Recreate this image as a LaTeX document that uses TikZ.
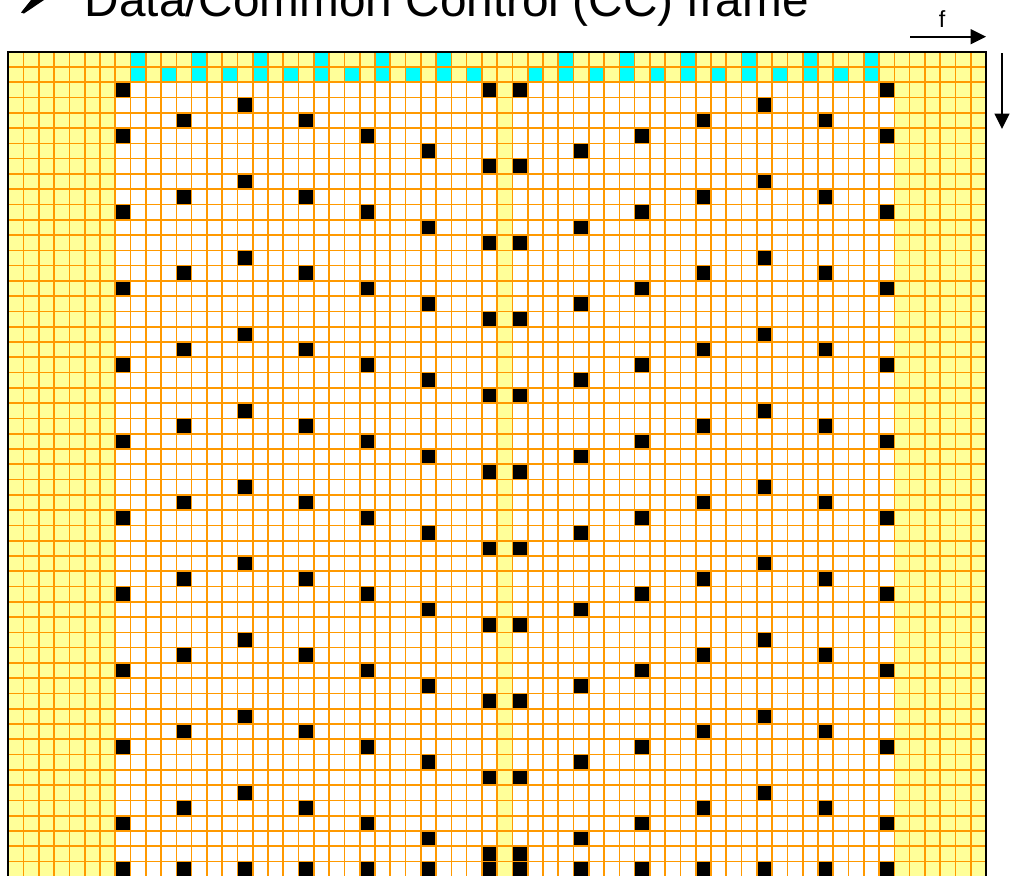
\documentclass[tikz,border=0pt]{standalone}
\usepackage{fontspec}
\setmainfont{Liberation Sans}
\usetikzlibrary{arrows.meta}
\definecolor{gridorange}{RGB}{255,153,0}
\definecolor{padyellow}{RGB}{255,255,153}
\definecolor{refcyan}{RGB}{0,255,255}
\tikzset{
  gridline/.style={draw=gridorange, line width=1.25pt},
  pilot/.style={fill=black},
  ctrl/.style={fill=refcyan},
  pad/.style={fill=padyellow},
  axisarrow/.style={line width=1.6pt, -{Triangle[length=11.5pt,width=11pt]}},
}
\newcommand\gcell[3]{\fill[#3] ({8.3+#1*15.277},{51.7+#2*15.28}) rectangle ++(15.277,15.28);}
\begin{document}
\begin{tikzpicture}[x=0.75pt,y=-0.75pt]
\useasboundingbox (0,0) rectangle (1010,875);
\clip (0,0) rectangle (1010,875);
% guard bands, DC column and top control rows
\fill[pad] (8.3,51.7) rectangle ({8.3+7*15.277},890);
\fill[pad] ({8.3+58*15.277},51.7) rectangle ({8.3+64*15.277},890);
\fill[pad] ({8.3+32*15.277},51.7) rectangle ({8.3+33*15.277},890);
\fill[pad] (8.3,51.7) rectangle ({8.3+64*15.277},{51.7+2*15.28});
% cyan control cells
\foreach \c in {8,10,...,30,34,36,...,56} {\gcell{\c}{1}{refcyan}}
\foreach \c in {8,12,...,28,36,40,...,56} {\gcell{\c}{0}{refcyan}}
% pilots
\foreach \c/\m in {7/0,11/4,15/3,19/4,23/0,27/1,31/2,33/2,37/1,41/0,45/4,49/3,53/4,57/0} {
  \foreach \k in {0,...,11} {
    \pgfmathtruncatemacro\r{\m+5*\k}
    \ifnum\r>1 \ifnum\r<54 \gcell{\c}{\r}{black}\fi\fi
  }
  \gcell{\c}{53}{black}
}
\gcell{7}{2}{black}
\gcell{57}{2}{black}
% grid
\foreach \i in {0,...,64} {\draw[gridline] ({8.3+\i*15.277},51.7) -- ({8.3+\i*15.277},890);}
\foreach \j in {0,...,54} {\draw[gridline] (8.3,{51.7+\j*15.28}) -- ({8.3+64*15.277},{51.7+\j*15.28});}
% border
\draw[black, line width=1.6pt] (8.3,890) -- (8.3,51.7) -- ({8.3+64*15.277},51.7) -- ({8.3+64*15.277},890);
% title
\fill[black] (31,0) -- (44,0) -- (24,13.5) -- (21,12.5) -- cycle;
\node[anchor=base west, inner sep=0pt, font=\fontsize{35.8}{40}\selectfont] (title) at (84.5,16) {Data/Common Control (CC) frame};
% axes
\node[anchor=base, inner sep=0pt, font=\fontsize{17.5}{20}\selectfont] (flabel) at (942,27) {f};
\coordinate (fstart) at (910,36.7);
\coordinate (fend) at (986,36.7);
\draw[axisarrow] (fstart) -- (fend);
\coordinate (tstart) at (1002,53);
\coordinate (tend) at (1002,129);
\draw[axisarrow] (tstart) -- (tend);
\end{tikzpicture}
\end{document}
